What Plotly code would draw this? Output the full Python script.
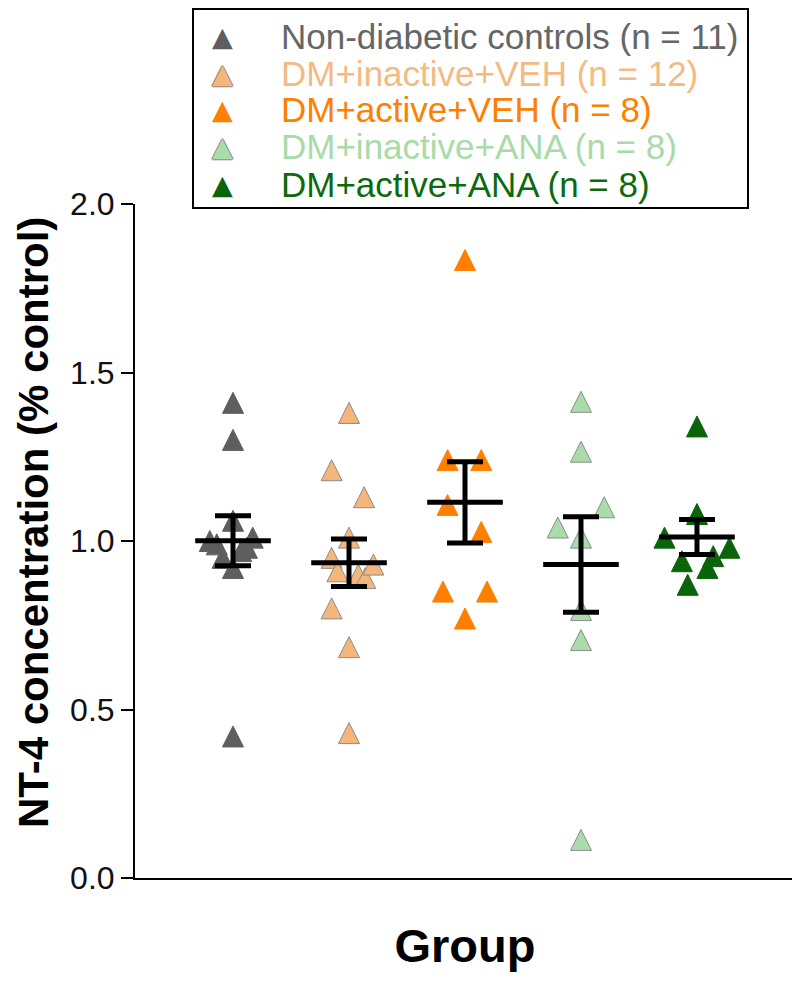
import plotly.graph_objects as go
import numpy as np

# ---------------- data ----------------
group_names = [
    "Non-diabetic controls (n = 11)",
    "DM+inactive+VEH (n = 12)",
    "DM+active+VEH (n = 8)",
    "DM+inactive+ANA (n = 8)",
    "DM+active+ANA (n = 8)",
]
ctrl_values = [1.41, 1.30, 0.42, 1.06, 1.00, 0.99, 1.01, 0.98, 0.95, 0.97, 0.92]
inact_veh_values = [1.38, 1.21, 1.13, 1.01, 0.95, 0.91, 0.90, 0.89, 0.93, 0.80, 0.685, 0.43]
act_veh_values = [1.834, 1.24, 1.24, 1.107, 1.027, 0.85, 0.85, 0.77]
inact_ana_values = [1.413, 1.265, 1.10, 1.04, 1.01, 0.795, 0.706, 0.113]
act_ana_values = [1.34, 1.08, 1.01, 0.98, 0.94, 0.955, 0.92, 0.87]

# horizontal scatter (jitter) of points, in category units
ctrl_jitter = [0, 0, 0, 0, -0.20, -0.14, 0.17, 0.12, -0.09, 0.07, 0]
inact_veh_jitter = [0, -0.15, 0.13, 0, -0.15, -0.10, 0.08, 0.14, 0.21, -0.15, 0, 0]
act_veh_jitter = [0, -0.15, 0.14, -0.15, 0.14, -0.19, 0.19, 0]
inact_ana_jitter = [0, 0, 0.20, -0.20, 0, 0, 0, 0]
act_ana_jitter = [0, 0, -0.28, 0.28, -0.13, 0.14, 0.09, -0.08]

all_values = [ctrl_values, inact_veh_values, act_veh_values, inact_ana_values, act_ana_values]
all_jitter = [ctrl_jitter, inact_veh_jitter, act_veh_jitter, inact_ana_jitter, act_ana_jitter]

fill_colors = ["#5e5e5e", "#f5b67c", "#ff8000", "#a9dca9", "#0a640a"]
edge_colors = ["#5e5e5e", "#8c8c8c", "#ff8000", "#8c8c8c", "#0a640a"]
text_colors = ["#666666", "#f3ba84", "#ff8000", "#a8dba8", "#0b6b0b"]
y_ticks = [0.0, 0.5, 1.0, 1.5, 2.0]
y_title = "NT-4 concentration (% control)"
x_title = "Group"

FONT = "Liberation Sans, Arial, sans-serif"
W, H = 800, 986
ML, MR, MT, MB = 127, 13, 196, 116
PW, PH = W - ML - MR, H - MT - MB


def px_x(px):
    return (px - ML) / PW


def px_y(py):
    return (H - MB - py) / PH


fig = go.Figure()

TRI = 21
for i, (vals, jit) in enumerate(zip(all_values, all_jitter)):
    fig.add_trace(go.Scatter(
        x=[i + j for j in jit], y=vals, mode="markers",
        marker=dict(symbol="arrow-down", angle=180, standoff=TRI / 2, size=TRI,
                    color=fill_colors[i], line=dict(color=edge_colors[i], width=1)),
        showlegend=False, cliponaxis=False, hoverinfo="y", name=group_names[i]))

for i, vals in enumerate(all_values):
    arr = np.array(vals)
    m = arr.mean()
    sem = arr.std(ddof=1) / np.sqrt(len(arr))
    fig.add_trace(go.Scatter(
        x=[i], y=[m], mode="markers",
        marker=dict(symbol="line-ew", size=54, color="black",
                    line=dict(color="black", width=5)),
        error_y=dict(type="data", array=[sem], color="black", thickness=5, width=18),
        showlegend=False, cliponaxis=False, hoverinfo="y"))

# legend (box + rows)
box = dict(x0=185, x1=740, y0=1, y1=200)
fig.add_shape(type="rect", xref="paper", yref="paper",
              x0=px_x(box["x0"]), x1=px_x(box["x1"]),
              y0=px_y(box["y1"]), y1=px_y(box["y0"]),
              line=dict(color="black", width=2), fillcolor="white", layer="above")
row_y = [28, 65, 102, 139, 176]
for i, name in enumerate(group_names):
    outline = "-1px 0 #888, 1px 0 #888, 0 -1px #888, 0 1px #888" if edge_colors[i] != fill_colors[i] else "none"
    fig.add_annotation(xref="paper", yref="paper", x=px_x(214), y=px_y(row_y[i]),
                       text="\u25B2", showarrow=False, xanchor="center", yanchor="middle",
                       font=dict(family="DejaVu Sans", size=27, color=fill_colors[i], shadow=outline))
    fig.add_annotation(xref="paper", yref="paper", x=px_x(271), y=px_y(row_y[i]),
                       text=name, showarrow=False, xanchor="left", yanchor="middle",
                       font=dict(family=FONT, size=35, color=text_colors[i]))

# y-axis title
fig.add_annotation(xref="paper", yref="paper", x=px_x(25), y=px_y(515), text=y_title,
                   textangle=-90, showarrow=False, xanchor="center", yanchor="middle",
                   font=dict(family=FONT, size=42, weight="bold", color="black"))

fig.update_layout(
    width=W, height=H, margin=dict(l=ML, r=MR, t=MT, b=MB),
    plot_bgcolor="white", paper_bgcolor="white", showlegend=False,
    font=dict(family=FONT, color="#111111"),
)
fig.update_xaxes(range=[-0.845, 4.845], showline=True, linecolor="black", linewidth=2,
                 showticklabels=False, ticks="", showgrid=False, zeroline=False,
                 title=dict(text=x_title, font=dict(family=FONT, size=47, weight="bold", color="black"),
                            standoff=50))
fig.update_yaxes(range=[0, 2.0], tickvals=y_ticks, tickformat=".1f", showline=True,
                 linecolor="black", linewidth=2, ticks="outside", ticklen=12, tickwidth=2,
                 tickcolor="black", showgrid=False, zeroline=False,
                 tickfont=dict(family=FONT, size=32, color="#111111"))

fig.write_html("out.html")
